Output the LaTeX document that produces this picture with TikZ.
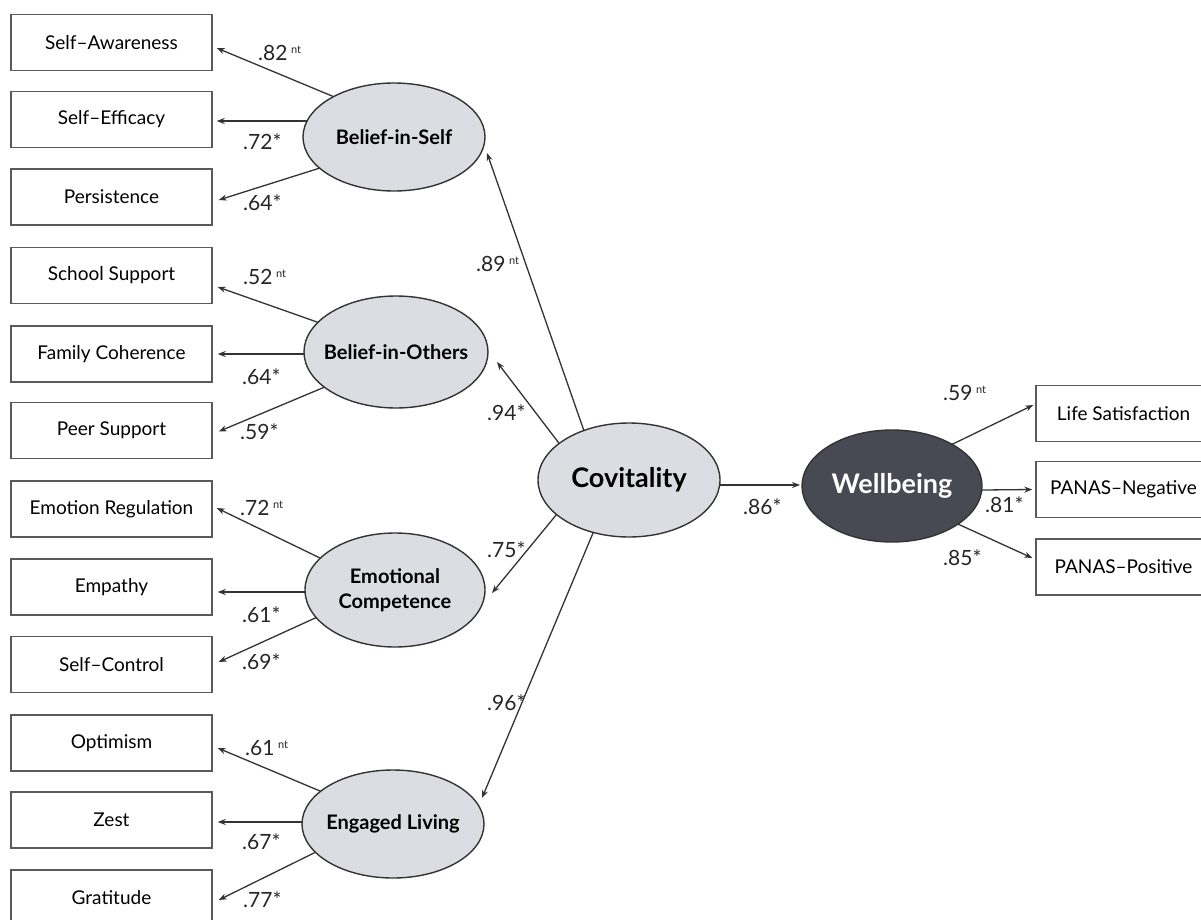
\documentclass[tikz,border=0pt]{standalone}
\usepackage{fontspec}
\setmainfont{Lato}
\usetikzlibrary{shapes.geometric,arrows.meta,calc,backgrounds}
\definecolor{latentfill}{HTML}{DCDDE2}
\definecolor{outcomefill}{HTML}{474A52}
\definecolor{inkline}{HTML}{333333}
\definecolor{boxline}{HTML}{5A5A5A}
\newcommand\ntmark{\raisebox{0.7ex}{\fontsize{11}{11}\selectfont nt}}
\newcommand\fixw[1]{\makebox[0pt]{#1}}
\begin{document}
\begin{tikzpicture}[x=1pt,y=-1pt,
  indicator/.style={draw=boxline, line width=1.4pt, fill=white, minimum width=201pt,
    minimum height=56pt, inner sep=0pt, font=\fontsize{19}{22}\selectfont},
  factor/.style={ellipse, draw=inkline, line width=1.4pt, fill=latentfill, inner sep=0pt,
    align=center, font=\fontsize{20}{25}\selectfont\bfseries},
  loading/.style={draw=inkline, line width=1.3pt, -{Stealth[length=8pt,width=6pt]},
    shorten <=-18pt},
  coef/.style={anchor=west, inner sep=0pt, font=\fontsize{21}{22}\selectfont, text=black!85}]

\begin{scope}[on background layer]
  \fill[white] (0,0) rectangle (1201,920);
\end{scope}
\clip (0,0) rectangle (1201,920);

% observed indicators, left column
\node[indicator] (sa) at (111.5,42.5) {Self–Awareness};
\node[indicator] (se) at (111.5,119.5) {Self–Efficacy};
\node[indicator] (pe) at (111.5,197) {Persistence};
\node[indicator] (ss) at (111.5,275.5) {School Support};
\node[indicator] (fc) at (111.5,354) {Family Coherence};
\node[indicator] (ps) at (111.5,430.5) {Peer Support};
\node[indicator] (er) at (111.5,509) {Emotion Regulation};
\node[indicator] (em) at (111.5,587) {Empathy};
\node[indicator] (sc) at (111.5,664.5) {Self–Control};
\node[indicator] (op) at (111.5,743) {Optimism};
\node[indicator] (ze) at (111.5,820) {Zest};
\node[indicator] (gr) at (111.5,898) {Gratitude};

% outcome indicators, right column
\node[indicator, minimum width=175pt] (ls) at (1123.5,413.5) {Life Satisfaction};
\node[indicator, minimum width=175pt] (pn) at (1123.5,489.5) {PANAS–Negative};
\node[indicator, minimum width=175pt] (pp) at (1123.5,567) {PANAS–Positive};

% latent factors
\node[factor, minimum width=182pt, minimum height=108pt] (bis) at (394,137) {\fixw{Belief-in-Self}};
\node[factor, minimum width=184pt, minimum height=112pt] (bio) at (396,352) {\fixw{Belief-in-Others}};
\node[factor, minimum width=180pt, minimum height=114pt] (ec) at (395,590) {Emotional\\Competence};
\node[factor, minimum width=182pt, minimum height=108pt] (el) at (393,824) {\fixw{Engaged Living}};
\node[factor, minimum width=182pt, minimum height=114pt, font=\fontsize{27}{30}\selectfont\bfseries] (cov) at (629,480) {\fixw{Covitality}};
\node[factor, minimum width=180pt, minimum height=112pt, fill=outcomefill, text=white,
  font=\fontsize{27}{30}\selectfont\bfseries] (wb) at (892,486) {\fixw{Wellbeing}};

\begin{scope}[on background layer]
  % Belief-in-Self
  \draw[loading] ($(bis.center)+(-74,-46)$) -- ($(sa.east)+(4,5.5)$);
  \draw[loading] ($(bis.center)+(-60,-16)$) -- ($(se.east)+(4,1.5)$);
  \draw[loading] ($(bis.center)+(-74,31)$) -- ($(pe.east)+(6,3)$);
  % Belief-in-Others
  \draw[loading] ($(bio.center)+(-79,-30)$) -- ($(ss.east)+(5,11.5)$);
  \draw[loading] ($(bio.center)+(-60,2)$) -- ($(fc.east)+(5,0)$);
  \draw[loading] ($(bio.center)+(-76,37)$) -- ($(ps.east)+(6,1)$);
  % Emotional Competence
  \draw[loading] ($(ec.center)+(-75,-32)$) -- ($(er.east)+(4,-1)$);
  \draw[loading] ($(ec.center)+(-60,2)$) -- ($(em.east)+(5,5)$);
  \draw[loading] ($(ec.center)+(-82,29)$) -- ($(sc.east)+(6,-2.5)$);
  % Engaged Living
  \draw[loading] ($(el.center)+(-73,-33)$) -- ($(op.east)+(5,5)$);
  \draw[loading] ($(el.center)+(-60,-2)$) -- ($(ze.east)+(5,2)$);
  \draw[loading] ($(el.center)+(-75,27)$) -- ($(gr.east)+(6,2)$);
  % Covitality to its factors and to Wellbeing
  \draw[loading] ($(cov.center)+(-46,-52)$) -- ($(bis.center)+(93,16)$);
  \draw[loading] ($(cov.center)+(-74,-42)$) -- ($(bio.center)+(101,10)$);
  \draw[loading] ($(cov.center)+(-77,40)$) -- ($(ec.center)+(97,3)$);
  \draw[loading] ($(cov.center)+(-36,53)$) -- ($(el.center)+(89,-26)$);
  \draw[loading] ($(cov.center)+(96,5)$) -- ($(wb.center)+(-92,-1)$);
  % Wellbeing indicators
  \draw[loading] ($(wb.center)+(65,-44)$) -- ($(ls.west)+(-2,-8.5)$);
  \draw[loading] ($(wb.center)+(91,4)$) -- ($(pn.west)+(-3,0)$);
  \draw[loading] ($(wb.center)+(68,39)$) -- ($(pp.west)+(-3,-9)$);
\end{scope}

% loadings
\node[coef] (c01) at (258,53) {.82\,\ntmark};
\node[coef] (c02) at (243,142) {.72*};
\node[coef] (c03) at (243,203) {.64*};
\node[coef] (c04) at (243,277) {.52\,\ntmark};
\node[coef] (c05) at (242,377) {.64*};
\node[coef] (c06) at (240,432) {.59*};
\node[coef] (c07) at (240,508) {.72\,\ntmark};
\node[coef] (c08) at (242,615) {.61*};
\node[coef] (c09) at (242,662) {.69*};
\node[coef] (c10) at (245,748) {.61\,\ntmark};
\node[coef] (c11) at (242,842) {.67*};
\node[coef] (c12) at (243,900) {.77*};
\node[coef] (c13) at (476,264) {.89\,\ntmark};
\node[coef] (c14) at (487,413) {.94*};
\node[coef] (c15) at (487,550) {.75*};
\node[coef] (c16) at (487,703) {.96*};
\node[coef] (c17) at (743,507) {.86*};
\node[coef] (c18) at (943,393) {.59\,\ntmark};
\node[coef] (c19) at (985,505) {.81*};
\node[coef] (c20) at (943,558) {.85*};
\end{tikzpicture}
\end{document}
